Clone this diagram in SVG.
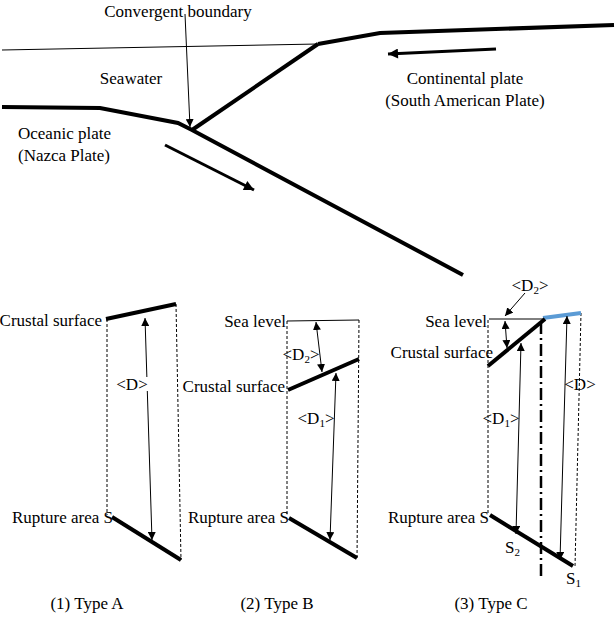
<svg xmlns="http://www.w3.org/2000/svg" width="615" height="622" viewBox="0 0 615 622">
<style>
text{font-family:"Liberation Serif",serif;font-size:17px;fill:#000}
.e{text-anchor:end}.m{text-anchor:middle}
.thick{stroke:#000;stroke-width:4;fill:none}
.thin{stroke:#000;stroke-width:1;fill:none}
.dot{stroke:#000;stroke-width:1;stroke-dasharray:3,2;fill:none}
</style>
<defs>
<marker id="a" viewBox="0 0 10 10" refX="10" refY="5" markerWidth="8" markerHeight="8" orient="auto-start-reverse" markerUnits="userSpaceOnUse"><path d="M0,0L10,5L0,10z"/></marker>
<marker id="b" viewBox="0 0 10 10" refX="10" refY="5" markerWidth="12" markerHeight="10" orient="auto" markerUnits="userSpaceOnUse"><path d="M0,0L10,5L0,10z"/></marker>
</defs>
<g id="overview">
<line class="thin" x1="2" y1="50" x2="318" y2="44"/>
<polyline class="thick" points="318,44 380,33 614,25"/>
<line class="thick" x1="318" y1="44" x2="192" y2="130"/>
<polyline class="thick" points="2,107 100,108 178,123 192,130 463,275"/>
<line stroke="#000" stroke-width="3" x1="496" y1="49" x2="388" y2="54" marker-end="url(#b)"/>
<line stroke="#000" stroke-width="3" x1="165" y1="145" x2="254" y2="190" marker-end="url(#b)"/>
<line class="thin" x1="185" y1="14" x2="190" y2="127" marker-end="url(#a)"/>
<text x="178" y="17" class="m">Convergent boundary</text>
<text x="131" y="84" class="m">Seawater</text>
<text x="465" y="84" class="m">Continental plate</text>
<text x="465" y="106" class="m">(South American Plate)</text>
<text x="18" y="139">Oceanic plate</text>
<text x="18" y="161">(Nazca Plate)</text>
</g>
<g id="typeA">
<line class="dot" x1="107" y1="319" x2="107" y2="515"/>
<line class="dot" x1="176" y1="304" x2="181" y2="560"/>
<line class="thick" x1="106" y1="319" x2="176" y2="304"/>
<line class="thick" x1="112" y1="517" x2="181" y2="560"/>
<line class="thin" x1="145" y1="318" x2="152" y2="540" marker-start="url(#a)" marker-end="url(#a)"/>
<rect x="130" y="377" width="20" height="14" fill="#fff"/>
<text x="132" y="390" class="m">&lt;D&gt;</text>
<text x="102" y="326" class="e">Crustal surface</text>
<text x="113" y="523" class="e">Rupture area S</text>
<text x="87" y="609" class="m">(1)  Type A</text>
</g>
<g id="typeB">
<line class="dot" x1="287" y1="321" x2="287" y2="515"/>
<line class="dot" x1="359" y1="320" x2="357" y2="560"/>
<line class="thin" x1="287" y1="321" x2="359" y2="320"/>
<line class="thick" x1="288" y1="390" x2="359" y2="359"/>
<line class="thick" x1="289" y1="518" x2="357" y2="558"/>
<line class="thin" x1="316" y1="322" x2="322" y2="372" marker-start="url(#a)" marker-end="url(#a)"/>
<line class="thin" x1="336" y1="373" x2="330" y2="540" marker-start="url(#a)" marker-end="url(#a)"/>
<text x="301" y="360" class="m">&lt;D<tspan font-size="11" dy="3">2</tspan><tspan dy="-3">&gt;</tspan></text>
<text x="316" y="424" class="m">&lt;D<tspan font-size="11" dy="3">1</tspan><tspan dy="-3">&gt;</tspan></text>
<text x="286" y="327" class="e">Sea level</text>
<text x="285" y="392" class="e">Crustal surface</text>
<text x="289" y="523" class="e">Rupture area S</text>
<text x="277" y="609" class="m">(2)  Type B</text>
</g>
<g id="typeC">
<line class="dot" x1="488" y1="320" x2="488" y2="515"/>
<line class="dot" x1="581" y1="313" x2="575" y2="567"/>
<line stroke="#000" stroke-width="2.5" stroke-dasharray="12,4,2,4" x1="541" y1="322" x2="541" y2="577"/>
<line class="thin" x1="489" y1="319" x2="543" y2="319"/>
<line stroke="#5b9bd5" stroke-width="4" x1="543" y1="318" x2="581" y2="313"/>
<line class="thick" x1="488" y1="366" x2="545" y2="319"/>
<line class="thick" x1="490" y1="515" x2="573" y2="566"/>
<line class="thin" x1="525" y1="293" x2="505" y2="316" marker-end="url(#a)"/>
<line class="thin" x1="505" y1="321" x2="507" y2="348" marker-start="url(#a)" marker-end="url(#a)"/>
<line class="thin" x1="521" y1="343" x2="516" y2="534" marker-start="url(#a)" marker-end="url(#a)"/>
<line class="thin" x1="567" y1="316" x2="560" y2="560" marker-start="url(#a)" marker-end="url(#a)"/>
<text x="530" y="291" class="m">&lt;D<tspan font-size="11" dy="3">2</tspan><tspan dy="-3">&gt;</tspan></text>
<text x="501" y="424" class="m">&lt;D<tspan font-size="11" dy="3">1</tspan><tspan dy="-3">&gt;</tspan></text>
<text x="580" y="390" class="m">&lt;D&gt;</text>
<text x="487" y="327" class="e">Sea level</text>
<text x="493" y="358" class="e">Crustal surface</text>
<text x="489" y="523" class="e">Rupture area S</text>
<text x="505" y="553">S<tspan font-size="11" dy="3">2</tspan></text>
<text x="566" y="584">S<tspan font-size="11" dy="3">1</tspan></text>
<text x="491" y="609" class="m">(3)  Type C</text>
</g>
</svg>
